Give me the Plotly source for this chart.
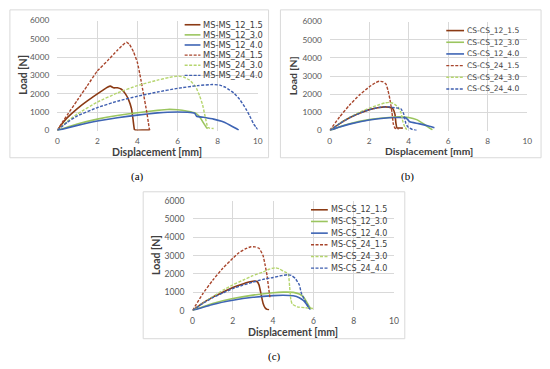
import plotly.graph_objects as go

W, H = 550, 369

# ---------------- data ----------------
names_a = ["MS-MS_12_1.5", "MS-MS_12_3.0", "MS-MS_12_4.0", "MS-MS_24_1.5", "MS-MS_24_3.0", "MS-MS_24_4.0"]
names_b = ["CS-CS_12_1.5", "CS-CS_12_3.0", "CS-CS_12_4.0", "CS-CS_24_1.5", "CS-CS_24_3.0", "CS-CS_24_4.0"]
names_c = ["MS-CS_12_1.5", "MS-CS_12_3.0", "MS-CS_12_4.0", "MS-CS_24_1.5", "MS-CS_24_3.0", "MS-CS_24_4.0"]

# panel (a) MS-MS
a_12_15_x = [0, 0.25, 0.5, 1.0, 1.5, 2.0, 2.3, 2.5, 2.65, 2.8, 3.0, 3.2, 3.4, 3.55, 3.7, 3.78, 3.85, 3.9, 4.3, 4.6]
a_12_15_y = [0, 380, 700, 1200, 1620, 2000, 2220, 2360, 2420, 2330, 2330, 2250, 2000, 1700, 1200, 600, 50, 20, 20, 20]
a_12_30_x = [0, 1, 2, 3, 4, 5, 5.5, 6, 6.5, 6.9, 7.1, 7.3, 7.45, 7.5]
a_12_30_y = [0, 350, 620, 820, 970, 1100, 1150, 1130, 1050, 950, 750, 400, 150, 100]
a_12_40_x = [0, 1, 2, 3, 4, 5, 5.5, 6, 6.5, 6.85, 6.95, 7.3, 7.8, 8.2, 8.6, 8.9, 9.05]
a_12_40_y = [0, 280, 520, 700, 840, 960, 1000, 1010, 1000, 950, 780, 720, 620, 500, 300, 120, 20]
a_24_15_x = [0, 0.25, 0.5, 1.0, 1.5, 2.0, 2.5, 2.8, 3.0, 3.2, 3.45, 3.6, 3.8, 4.0, 4.15, 4.3, 4.45, 4.55, 4.6, 4.65]
a_24_15_y = [0, 450, 850, 1650, 2450, 3250, 3800, 4150, 4380, 4600, 4820, 4700, 4300, 3700, 2900, 2000, 1100, 400, 50, 20]
a_24_30_x = [0, 0.5, 1, 2, 3, 4, 5, 5.6, 6.0, 6.3, 6.6, 6.9, 7.1, 7.25, 7.35, 7.45, 7.5, 7.6, 7.8]
a_24_30_y = [0, 500, 900, 1550, 2050, 2450, 2750, 2900, 2970, 2920, 2750, 2400, 1900, 1400, 900, 400, 180, 130, 110]
a_24_40_x = [0, 0.5, 1, 2, 3, 4, 5, 6, 7, 7.75, 8.1, 8.4, 8.8, 9.1, 9.4, 9.6, 9.8, 9.9, 10.0]
a_24_40_y = [0, 450, 800, 1250, 1600, 1870, 2100, 2300, 2450, 2510, 2480, 2350, 2050, 1700, 1200, 800, 350, 200, 60]

# panel (b) CS-CS
b_12_15_x = [0, 0.5, 1, 1.5, 2, 2.5, 2.8, 3.0, 3.2, 3.3, 3.35, 3.4, 3.6, 3.7]
b_12_15_y = [0, 380, 700, 950, 1150, 1270, 1300, 1280, 1200, 900, 400, 150, 140, 130]
b_12_30_x = [0, 0.5, 1, 2, 3, 3.5, 4.0, 4.4, 4.8, 5.1, 5.2]
b_12_30_y = [0, 200, 370, 600, 720, 750, 720, 600, 330, 100, 40]
b_12_40_x = [0, 0.5, 1, 2, 3, 3.5, 3.85, 3.95, 4.05, 4.5, 5.0, 5.3]
b_12_40_y = [0, 190, 350, 580, 700, 720, 700, 600, 480, 380, 250, 150]
b_24_15_x = [0, 0.5, 1, 1.5, 2, 2.3, 2.5, 2.7, 2.85, 2.95, 3.05, 3.15, 3.22, 3.3, 3.5]
b_24_15_y = [0, 750, 1400, 1950, 2400, 2620, 2710, 2680, 2550, 2200, 1700, 1000, 350, 130, 90]
b_24_30_x = [0, 0.5, 1, 1.5, 2, 2.5, 2.8, 3.0, 3.2, 3.45, 3.6, 3.7, 3.8, 3.9]
b_24_30_y = [0, 400, 720, 1000, 1230, 1420, 1520, 1550, 1500, 1300, 1000, 500, 200, 50]
b_24_40_x = [0, 0.5, 1, 1.5, 2, 2.5, 2.8, 3.0, 3.3, 3.6, 3.75, 3.85, 3.95, 4.2, 4.4]
b_24_40_y = [0, 380, 700, 950, 1150, 1270, 1300, 1300, 1250, 1200, 900, 400, 200, 50, 0]

# panel (c) MS-CS
c_12_15_x = [0, 0.5, 1, 1.5, 2, 2.5, 2.8, 3.0, 3.2, 3.3, 3.4, 3.5, 3.6, 3.7, 3.8]
c_12_15_y = [0, 400, 730, 1000, 1250, 1450, 1550, 1600, 1580, 1400, 900, 400, 150, 60, 40]
c_12_30_x = [0, 1, 2, 3, 4, 4.5, 5, 5.3, 5.5, 5.65, 5.8, 5.9]
c_12_30_y = [0, 380, 650, 840, 970, 1000, 990, 900, 750, 500, 200, 80]
c_12_40_x = [0, 1, 2, 3, 4, 4.5, 5, 5.3, 5.5, 5.65, 5.8]
c_12_40_y = [0, 330, 560, 720, 810, 830, 800, 700, 550, 350, 100]
c_24_15_x = [0, 0.5, 1, 1.5, 2, 2.3, 2.6, 2.9, 3.1, 3.3, 3.5, 3.6, 3.7, 3.77, 3.85]
c_24_15_y = [0, 900, 1650, 2300, 2850, 3150, 3350, 3480, 3470, 3400, 3000, 2500, 1900, 1300, 650]
c_24_30_x = [0, 0.5, 1, 1.5, 2, 2.5, 3, 3.5, 3.8, 4.1, 4.3, 4.5, 4.75, 4.82, 4.88, 4.95, 5.2, 5.6, 6.05]
c_24_30_y = [0, 400, 750, 1100, 1400, 1650, 1900, 2100, 2250, 2330, 2280, 2150, 2000, 1300, 600, 350, 200, 150, 100]
c_24_40_x = [0, 0.5, 1, 1.5, 2, 2.5, 3, 3.5, 4, 4.4, 4.7, 4.9, 5.1, 5.3, 5.4, 5.55, 5.7, 5.8, 5.85]
c_24_40_y = [0, 380, 700, 950, 1200, 1380, 1550, 1700, 1800, 1900, 1950, 1920, 1750, 1400, 950, 600, 300, 100, 50]

x_ticks = [0, 2, 4, 6, 8, 10]
y_ticks = [0, 1000, 2000, 3000, 4000, 5000, 6000]
captions = ["(a)", "(b)", "(c)"]

# ---------------- styles ----------------
colors = ["#8B3A14", "#9BC55F", "#3E64B4", "#A8452C", "#B5D56E", "#3F5FB0"]
dashes = ["solid", "solid", "solid", "3px,1.5px", "3px,1.5px", "3px,1.5px"]
widths = [1.6, 1.6, 1.6, 1.4, 1.4, 1.4]
FONT = "Lato"
LEG_FONT = "DejaVu Sans"

def px(x):
    return x / W

def py(y):
    return 1 - y / H

panels = [
    dict(names=names_a,
         series=[(a_12_15_x, a_12_15_y), (a_12_30_x, a_12_30_y), (a_12_40_x, a_12_40_y),
                 (a_24_15_x, a_24_15_y), (a_24_30_x, a_24_30_y), (a_24_40_x, a_24_40_y)],
         dom_x=(56, 259), dom_y=(129, 16), box=(8, 5, 270, 157),
         xt=(157, 151), yt=(21, 72), leg=(185, 201, 203, 20.3, 10.4), fs=8.3, tfs=10.5, lfs=8.3),
    dict(names=names_b,
         series=[(b_12_15_x, b_12_15_y), (b_12_30_x, b_12_30_y), (b_12_40_x, b_12_40_y),
                 (b_24_15_x, b_24_15_y), (b_24_30_x, b_24_30_y), (b_24_40_x, b_24_40_y)],
         dom_x=(332, 532), dom_y=(129, 17), box=(282, 5, 546, 157),
         xt=(432, 150), yt=(295, 73), leg=(450, 468, 470, 26.3, 12), fs=8.3, tfs=10.3, lfs=7.6),
    dict(names=names_c,
         series=[(c_12_15_x, c_12_15_y), (c_12_30_x, c_12_30_y), (c_12_40_x, c_12_40_y),
                 (c_24_15_x, c_24_15_y), (c_24_30_x, c_24_30_y), (c_24_40_x, c_24_40_y)],
         dom_x=(193, 397), dom_y=(314, 201), box=(143, 192, 408, 343),
         xt=(295, 336), yt=(156, 257), leg=(313, 330, 332, 210.5, 12), fs=8.6, tfs=10.5, lfs=8.0),
]

fig = go.Figure()
shapes = []
annotations = []
layout = {}

for i, p in enumerate(panels):
    sfx = "" if i == 0 else str(i + 1)
    xa, ya = "x" + sfx, "y" + sfx
    for k, (xs, ys) in enumerate(p["series"]):
        fig.add_trace(go.Scatter(
            x=xs, y=ys, mode="lines", name=p["names"][k], showlegend=False,
            xaxis=xa, yaxis=ya,
            line=dict(color=colors[k], dash=dashes[k], width=widths[k], shape="spline", smoothing=0.4),
        ))
    layout["xaxis" + sfx] = dict(
        domain=[px(p["dom_x"][0]), px(p["dom_x"][1])], anchor=ya, range=[0, 10],
        tickvals=x_ticks, showgrid=True, gridcolor="#d9d9d9", gridwidth=1,
        zeroline=False, showline=False, ticks="", ticklabelstandoff=4,
        tickfont=dict(family=FONT, size=p["fs"], color="#595959"), fixedrange=True,
    )
    layout["yaxis" + sfx] = dict(
        domain=[py(p["dom_y"][0]), py(p["dom_y"][1])], anchor=xa, range=[0, 6000],
        tickvals=y_ticks, showgrid=True, gridcolor="#d9d9d9", gridwidth=1,
        zeroline=False, showline=False, ticks="", ticklabelstandoff=7,
        tickfont=dict(family=FONT, size=p["fs"], color="#595959"), fixedrange=True,
    )
    x0, y0, x1, y1 = p["box"]
    shapes.append(dict(type="rect", xref="paper", yref="paper",
                       x0=px(x0), x1=px(x1), y0=py(y1), y1=py(y0),
                       line=dict(color="#d9d9d9", width=1), fillcolor="rgba(0,0,0,0)", layer="below"))
    annotations.append(dict(text="<b>Displacement [mm]</b>", x=px(p["xt"][0]), y=py(p["xt"][1]),
                            xref="paper", yref="paper", showarrow=False, xanchor="center", yanchor="middle",
                            borderpad=0, font=dict(family=FONT, size=p["tfs"], color="#404040")))
    annotations.append(dict(text="<b>Load [N]</b>", x=px(p["yt"][0]), y=py(p["yt"][1]),
                            xref="paper", yref="paper", showarrow=False, xanchor="center", yanchor="middle",
                            borderpad=0, textangle=-90,
                            font=dict(family=FONT, size=p["tfs"], color="#404040")))
    lx0, lx1, tx, ly0, step = p["leg"]
    for k, nm in enumerate(p["names"]):
        yy = ly0 + k * step
        shapes.append(dict(type="line", xref="paper", yref="paper",
                           x0=px(lx0), x1=px(lx1), y0=py(yy), y1=py(yy),
                           line=dict(color=colors[k], width=widths[k], dash=dashes[k])))
        annotations.append(dict(text=nm, x=px(tx), y=py(yy), xref="paper", yref="paper",
                                showarrow=False, xanchor="left", yanchor="middle", borderpad=0,
                                font=dict(family=LEG_FONT, size=p["lfs"], color="#404040")))

cap_pos = [(137, 176), (411, 176), (276, 361)]
for c, (cx, cy) in zip(captions, cap_pos):
    annotations.append(dict(text=c, x=px(cx), y=py(cy), xref="paper", yref="paper",
                            showarrow=False, xanchor="center", yanchor="middle", borderpad=0,
                            font=dict(family="Liberation Serif", size=11, color="#000000")))

fig.update_layout(
    width=W, height=H, margin=dict(l=0, r=0, t=0, b=0),
    paper_bgcolor="white", plot_bgcolor="white",
    shapes=shapes, annotations=annotations, showlegend=False,
    **layout,
)

fig.write_html("out.html", config={"displayModeBar": False},
               post_script="document.body.style.margin='0px';")
